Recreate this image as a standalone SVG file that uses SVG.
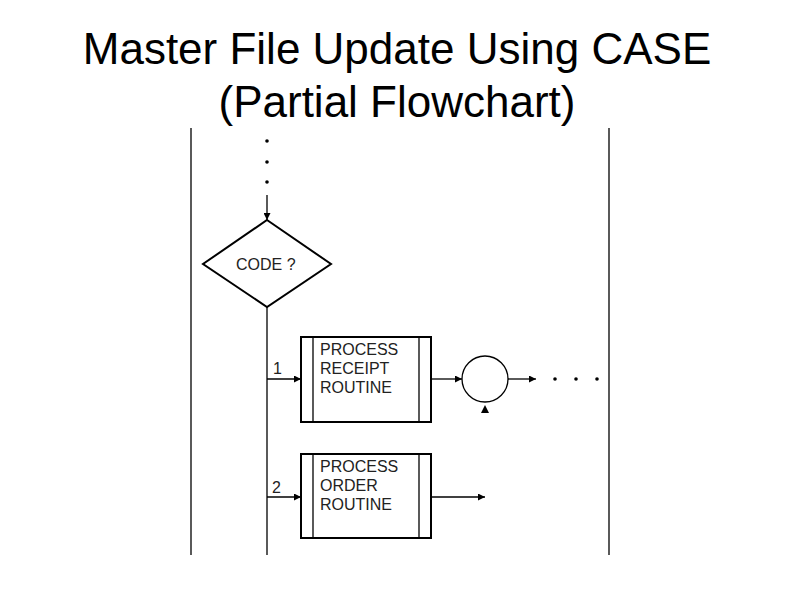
<svg xmlns="http://www.w3.org/2000/svg" width="794" height="595" viewBox="0 0 794 595">
<style>
.l{stroke:#000;stroke-width:1.3;fill:none}
.b{stroke:#000;stroke-width:2;fill:#fff}
.t{font-family:"Liberation Sans",Arial,sans-serif;font-size:16px;fill:#222}
.h{font-family:"Liberation Sans",Arial,sans-serif;font-size:44px;fill:#000;text-anchor:middle}
</style>
<defs><marker id="a" viewBox="0 0 10 10" refX="10" refY="5" markerWidth="9" markerHeight="7" markerUnits="userSpaceOnUse" orient="auto"><path d="M0,0L10,5L0,10z"/></marker></defs>
<rect width="794" height="595" fill="#fff"/>
<text class="h" x="397" y="64">Master File Update Using CASE</text>
<text class="h" x="397" y="117">(Partial Flowchart)</text>
<g id="frame"><line class="l" x1="191" y1="128" x2="191" y2="555"/><line class="l" x1="609" y1="128" x2="609" y2="555"/></g>
<g id="connectors">
<circle cx="267" cy="141" r="1.8"/><circle cx="267" cy="162" r="1.8"/><circle cx="267" cy="182" r="1.8"/>
<line class="l" x1="267" y1="195" x2="267" y2="220" marker-end="url(#a)"/>
<line class="l" x1="267" y1="307" x2="267" y2="555"/>
<line class="l" x1="267" y1="379" x2="301" y2="379" marker-end="url(#a)"/>
<text class="t" x="273" y="374">1</text>
<line class="l" x1="431" y1="379" x2="462" y2="379" marker-end="url(#a)"/>
<line class="l" x1="508" y1="379" x2="536" y2="379" marker-end="url(#a)"/>
<circle cx="555" cy="379" r="1.8"/><circle cx="576" cy="379" r="1.8"/><circle cx="597" cy="379" r="1.8"/>
<path d="M485,405L481,413L489,413z"/>
<line class="l" x1="267" y1="497" x2="301" y2="497" marker-end="url(#a)"/>
<text class="t" x="272" y="493">2</text>
<line class="l" x1="431" y1="497" x2="485" y2="497" marker-end="url(#a)"/>
</g>
<g id="decision"><path class="b" d="M267,220L331,264L267,307L203,264z" stroke-width="1.3"/><text class="t" x="236" y="270">CODE ?</text></g>
<g id="receipt"><rect class="b" x="301" y="337" width="130" height="85"/><line class="l" x1="313" y1="337" x2="313" y2="422" stroke-width="2"/><line class="l" x1="419" y1="337" x2="419" y2="422" stroke-width="2"/>
<text class="t" x="320" y="355">PROCESS</text><text class="t" x="320" y="374">RECEIPT</text><text class="t" x="320" y="393">ROUTINE</text></g>
<g id="connector-circle"><circle cx="485" cy="379" r="23" class="l" stroke-width="1.6"/></g>
<g id="order"><rect class="b" x="301" y="454" width="130" height="84"/><line class="l" x1="313" y1="454" x2="313" y2="538" stroke-width="2"/><line class="l" x1="419" y1="454" x2="419" y2="538" stroke-width="2"/>
<text class="t" x="320" y="472">PROCESS</text><text class="t" x="320" y="491">ORDER</text><text class="t" x="320" y="510">ROUTINE</text></g>
</svg>
